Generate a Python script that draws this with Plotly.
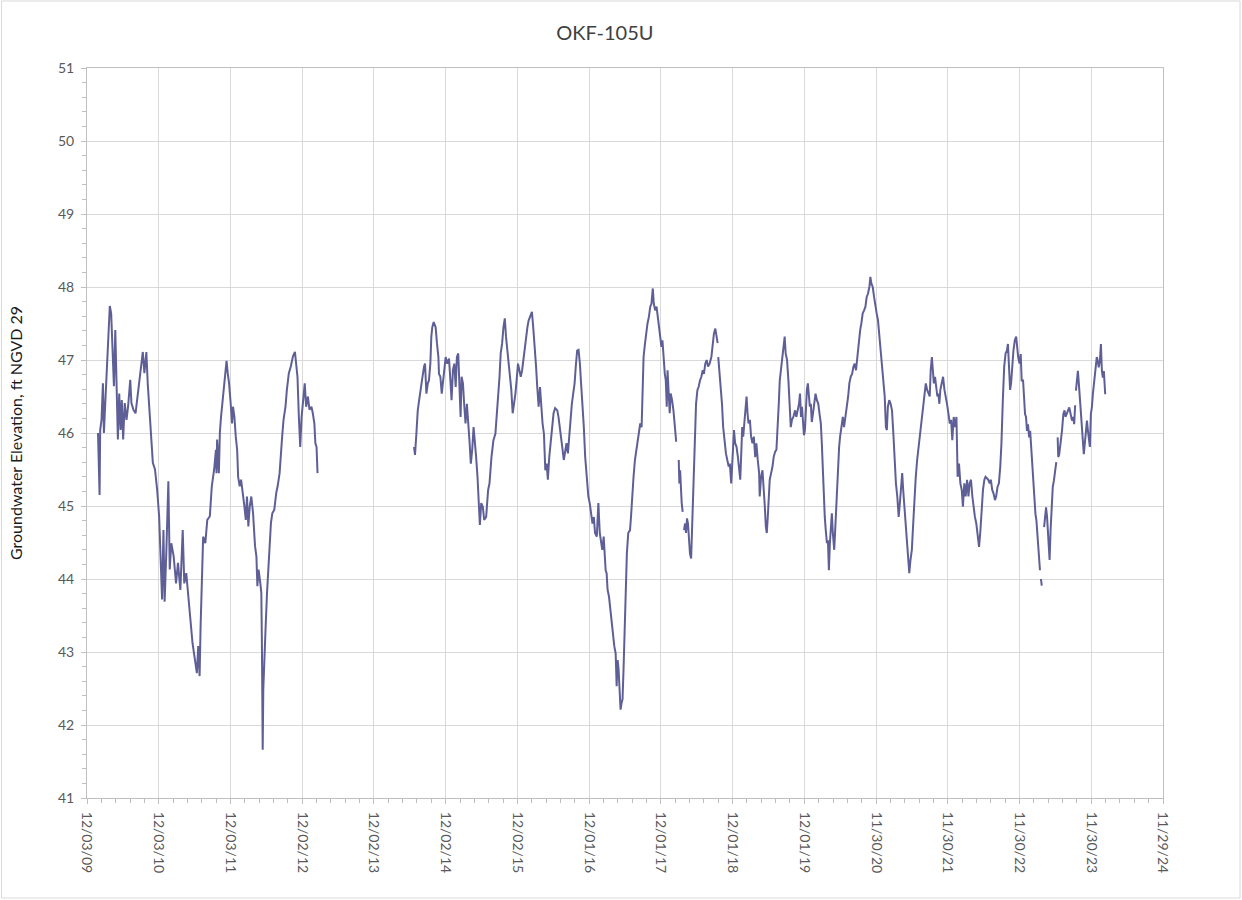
import pandas as pd
import plotly.graph_objects as go

# Well OKF-105U groundwater elevation.
# day_offset = days after 2009-12-03; None in elevation_ft marks a gap in the record.
START_DATE = "2009-12-03"

day_offset = [
    56, 59, 64, 67, 74, 81, 86, 93, 101, 108, 116, 123, 130, 137, 144, 150, 157, 164, 171, 177,
    184, 192, 201, 209, 220, 226, 236, 247, 258, 270, 284, 292, 302, 309, 318, 326, 335, 346, 357, 367,
    375, 382, 389, 395, 404, 414, 421, 429, 441, 453, 463, 475, 487, 495, 505, 515, 525, 537, 549, 559,
    566, 573, 578, 585, 591, 602, 612, 625, 635, 647, 656, 659, 662, 671, 676, 682, 693, 701, 710, 716,
    723, 731, 738, 743, 750, 757, 764, 769, 777, 784, 794, 801, 808, 814, 821, 828, 836, 845, 855, 862,
    867, 873, 882, 887, 890, 894, 897, 902, 909, 916, 922, 929, 936, 943, 953, 963, 970, 980, 987, 993,
    1000, 1010, 1017, 1027, 1037, 1048, 1058, 1064, 1071, 1078, 1085, 1092, 1098, 1108, 1115, 1124, 1132, 1142, 1149, 1157,
    1162, 1168, 1173,
    1400,
    1664, 1669, 1676, 1683, 1690, 1698, 1707, 1715, 1720, 1727, 1734, 1740, 1747, 1752, 1757, 1764, 1774,
    1781, 1788, 1791, 1798, 1805, 1811, 1818, 1825, 1833, 1842, 1850, 1855, 1862, 1869, 1876, 1882, 1889, 1896, 1901,
    1906, 1913, 1919, 1926, 1933, 1940, 1947, 1953, 1960, 1967, 1974, 1980, 1987, 1994, 1999, 2006, 2014, 2021, 2031,
    2041, 2048, 2058, 2068, 2078, 2085, 2092, 2099, 2105, 2112, 2119, 2126, 2132, 2139, 2146, 2153, 2159, 2166, 2173,
    2180, 2186, 2193, 2200, 2207, 2214, 2220, 2227, 2234, 2241, 2247, 2256, 2264, 2271, 2278, 2285, 2291, 2298, 2305,
    2312, 2318, 2325, 2332, 2339, 2345, 2352, 2359, 2366, 2374, 2382, 2393, 2399, 2406, 2413, 2420, 2426, 2433, 2440,
    2447, 2453, 2460, 2467, 2474, 2481, 2487, 2494, 2501, 2508, 2514, 2521, 2528, 2535, 2543, 2551, 2558, 2565, 2572,
    2579, 2585, 2594, 2602, 2609, 2616, 2622, 2629, 2636, 2639, 2644, 2649, 2656, 2663, 2670, 2676, 2683, 2690, 2695,
    2700, 2705, 2710, 2715, 2720, 2725, 2730, 2737, 2742, 2747, 2754, 2763, 2768, 2774, 2781, 2788, 2795, 2801, 2808,
    2815, 2822, 2827, 2832, 2839, 2845, 2852, 2859, 2866, 2872, 2879, 2884, 2891, 2898, 2905, 2910, 2916, 2923, 2928,
    2933, 2940, 2945, 2950, 2954, 2960, 2965, 2970, 2977, 2984, 2991, 2998,
    3004,
    3011, 3014, 3018, 3021, 3026, 3031,
    3034,
    3038, 3043, 3048, 3053, 3058, 3063, 3068, 3074, 3079, 3084, 3089, 3094, 3099, 3106, 3112, 3119, 3126, 3133, 3139,
    3146, 3153, 3160, 3168, 3177, 3183, 3190, 3197, 3204, 3209,
    3210,
    3212, 3217, 3224, 3231, 3237, 3244, 3251, 3258, 3265, 3271, 3278, 3285, 3292, 3298, 3305, 3312, 3319, 3324,
    3329, 3334, 3339, 3346, 3351, 3356, 3361, 3366, 3373, 3379, 3386, 3393, 3400, 3406, 3413, 3420, 3423, 3430, 3437,
    3444, 3449, 3454, 3459, 3464, 3469, 3474, 3481, 3488, 3494, 3501, 3508, 3515, 3520, 3525, 3532, 3538, 3545, 3550,
    3555, 3562, 3569, 3576, 3581, 3587, 3594, 3603, 3609, 3616, 3623, 3628, 3633, 3638, 3643, 3648, 3653, 3658, 3663,
    3668, 3673, 3678, 3683, 3688, 3694, 3700, 3707, 3714, 3721, 3727, 3734, 3739, 3744, 3749, 3754, 3759, 3765, 3770,
    3775, 3780, 3785, 3790, 3795, 3802, 3807, 3812, 3817, 3822, 3827, 3832, 3839, 3846, 3852, 3859, 3866, 3873, 3879,
    3886, 3893, 3900, 3906, 3913, 3920, 3927, 3934, 3940, 3947, 3954, 3961, 3967, 3974, 3981, 3986, 3991, 3998, 4005,
    4011, 4018, 4025, 4032, 4038, 4045, 4052, 4059, 4065, 4070, 4075, 4082, 4089, 4096, 4103, 4109, 4116, 4123, 4130,
    4136, 4143, 4148, 4153, 4160, 4167, 4174, 4179, 4184, 4190, 4197, 4204, 4211, 4217, 4224, 4231, 4238, 4245, 4251,
    4258, 4263, 4268, 4275, 4282, 4288, 4293, 4299, 4304, 4309, 4315, 4322, 4327, 4332, 4337, 4342, 4349, 4356, 4363,
    4370, 4376, 4383, 4390, 4397, 4403, 4410, 4417, 4424, 4427, 4430, 4437, 4444, 4451, 4457, 4464, 4471, 4478, 4485,
    4491, 4498, 4505, 4512, 4518, 4525, 4532, 4539, 4545, 4552, 4559, 4566, 4572, 4579, 4586, 4593, 4599, 4606, 4613,
    4620, 4626, 4633, 4640, 4647, 4653, 4660, 4667, 4674, 4681, 4686, 4691, 4697, 4702, 4708, 4714, 4721, 4728, 4738,
    4745, 4751, 4756, 4763, 4768, 4773, 4778, 4783, 4788, 4794, 4799, 4804, 4809, 4816, 4821, 4826, 4831, 4836, 4841,
    4846, 4849,
    4851,
    4854, 4858,
    4864,
    4870, 4875, 4880, 4885, 4890, 4895, 4898, 4903, 4908, 4914, 4920, 4927, 4932,
    4935,
    4939, 4942, 4947, 4954, 4961, 4968, 4974, 4979, 4985, 4991, 4998, 5005, 5012, 5018, 5023, 5028,
    5030,
    5032, 5037, 5042, 5047, 5052, 5057, 5062, 5067, 5072, 5077, 5083, 5088, 5093, 5098, 5103, 5108, 5113, 5118, 5123,
    5128, 5133, 5138, 5143, 5148, 5154, 5159, 5164, 5169, 5174, 5177, 5181,
]

elevation_ft = [
    46.00, 45.68, 45.15, 46.04, 46.18, 46.68, 46.00, 46.41, 46.95, 47.32, 47.74, 47.64, 47.14, 46.64, 47.41, 46.77, 45.91, 46.54, 46.04, 46.45,
    45.91, 46.41, 46.18, 46.36, 46.73, 46.41, 46.32, 46.27, 46.54, 46.86, 47.11, 46.82, 47.11, 46.68, 46.32, 45.86, 45.59, 45.50, 45.22, 44.86,
    44.31, 43.72, 44.67, 43.69, 44.40, 45.34, 44.13, 44.49, 44.31, 43.94, 44.22, 43.85, 44.67, 43.94, 44.08, 43.76, 43.44, 43.12, 42.90, 42.71,
    43.08, 42.67, 43.35, 44.22, 44.58, 44.49, 44.81, 44.86, 45.27, 45.50, 45.77, 45.45, 45.91, 45.45, 46.00, 46.22, 46.50, 46.68, 46.99, 46.82,
    46.68, 46.41, 46.13, 46.36, 46.22, 45.95, 45.77, 45.40, 45.27, 45.36, 45.08, 44.99, 44.81, 45.13, 44.72, 44.99, 45.13, 44.90, 44.45, 44.31,
    43.90, 44.13, 43.94, 43.81, 43.12, 41.66, 42.49, 42.99, 43.35, 43.81, 44.13, 44.31, 44.77, 44.90, 44.95, 45.18, 45.27, 45.45, 45.77, 45.95,
    46.18, 46.36, 46.59, 46.82, 46.91, 47.05, 47.11, 46.91, 46.77, 46.22, 45.81, 46.22, 46.36, 46.68, 46.36, 46.50, 46.32, 46.36, 46.27, 46.13,
    45.86, 45.81, 45.45,
    None,
    45.81, 45.70, 45.99, 46.31, 46.45, 46.63, 46.77, 46.91, 46.95, 46.54, 46.68, 46.72, 46.95, 47.32, 47.45, 47.52, 47.45,
    47.22, 47.04, 46.81, 46.77, 46.54, 46.72, 46.86, 47.04, 46.95, 47.02, 46.68, 46.45, 46.86, 46.95, 46.63, 47.04, 47.09, 46.68, 46.22,
    46.77, 46.68, 46.40, 46.13, 46.40, 46.18, 45.86, 45.58, 45.77, 46.08, 45.90, 45.67, 45.40, 45.04, 44.74, 45.04, 44.99, 44.81, 44.85,
    45.22, 45.31, 45.67, 45.90, 45.99, 46.22, 46.50, 46.77, 47.09, 47.22, 47.45, 47.57, 47.32, 47.13, 46.91, 46.77, 46.59, 46.27, 46.40,
    46.54, 46.72, 46.95, 46.86, 46.77, 46.86, 47.00, 47.18, 47.32, 47.45, 47.54, 47.61, 47.66, 47.43, 47.22, 46.91, 46.63, 46.36, 46.63,
    46.31, 46.13, 45.99, 45.49, 45.58, 45.36, 45.67, 45.86, 46.08, 46.27, 46.34, 46.31, 46.22, 46.04, 45.90, 45.77, 45.63, 45.77, 45.86,
    45.72, 45.95, 46.18, 46.40, 46.54, 46.68, 46.91, 47.13, 47.14, 46.95, 46.68, 46.40, 46.08, 45.67, 45.40, 45.13, 45.04, 44.90, 44.76,
    44.85, 44.63, 44.58, 45.04, 44.63, 44.49, 44.40, 44.58, 44.26, 44.12, 44.08, 43.85, 43.76, 43.58, 43.39, 43.21, 43.08, 42.98, 42.53,
    42.89, 42.76, 42.48, 42.21, 42.30, 42.35, 42.76, 43.39, 43.90, 44.35, 44.63, 44.67, 44.85, 45.17, 45.40, 45.63, 45.77, 45.90, 46.04,
    46.13, 46.08, 46.50, 47.04, 47.22, 47.36, 47.50, 47.59, 47.73, 47.77, 47.98, 47.77, 47.68, 47.73, 47.59, 47.50, 47.32, 47.18, 47.27,
    47.04, 46.81, 46.72, 46.36, 46.86, 46.54, 46.27, 46.54, 46.45, 46.31, 46.08, 45.88,
    None,
    45.63, 45.31, 45.49, 45.26, 45.04, 44.92,
    None,
    44.67, 44.76, 44.63, 44.83, 44.76, 44.49, 44.35, 44.28, 44.76, 45.26, 45.77, 46.13, 46.40, 46.59, 46.63, 46.72, 46.77, 46.86, 46.81,
    46.95, 47.00, 46.91, 46.95, 47.04, 47.22, 47.36, 47.43, 47.27, 47.23,
    None,
    47.04, 46.86, 46.72, 46.40, 46.08, 45.86, 45.72, 45.63, 45.54, 45.58, 45.31, 45.67, 46.04, 45.86, 45.81, 45.67, 45.49, 45.36,
    45.72, 46.08, 45.95, 46.18, 46.31, 46.50, 46.27, 46.13, 46.18, 45.95, 45.86, 45.95, 45.67, 45.86, 45.63, 45.45, 45.13, 45.40, 45.49,
    45.26, 44.99, 44.72, 44.63, 44.85, 45.17, 45.36, 45.45, 45.54, 45.67, 45.74, 45.77, 46.08, 46.40, 46.72, 46.91, 47.04, 47.18, 47.32,
    47.09, 47.00, 46.72, 46.40, 46.08, 46.18, 46.22, 46.31, 46.22, 46.31, 46.40, 46.54, 46.22, 46.36, 46.13, 45.97, 46.04, 46.40, 46.59,
    46.68, 46.50, 46.36, 46.40, 46.15, 46.27, 46.40, 46.54, 46.45, 46.40, 46.27, 46.13, 45.86, 45.49, 45.13, 44.85, 44.67, 44.49, 44.53,
    44.12, 44.49, 44.81, 44.90, 44.63, 44.40, 44.67, 44.99, 45.22, 45.54, 45.81, 45.95, 46.13, 46.22, 46.08, 46.27, 46.36, 46.50, 46.68,
    46.77, 46.81, 46.91, 46.95, 46.86, 47.04, 47.27, 47.41, 47.50, 47.64, 47.68, 47.73, 47.86, 47.91, 48.00, 48.14, 48.05, 48.00, 47.86,
    47.73, 47.64, 47.54, 47.32, 47.18, 46.95, 46.68, 46.50, 46.08, 46.04, 46.36, 46.45, 46.40, 46.31, 45.99, 45.67, 45.31, 45.13, 44.85,
    45.04, 45.31, 45.45, 45.22, 44.94, 44.63, 44.40, 44.17, 44.08, 44.26, 44.40, 44.76, 45.17, 45.40, 45.63, 45.81, 45.95, 46.13, 46.31,
    46.50, 46.63, 46.68, 46.59, 46.54, 46.50, 46.86, 47.04, 46.86, 46.68, 46.77, 46.59, 46.50, 46.54, 46.40, 46.59, 46.68, 46.77, 46.59,
    46.50, 46.40, 46.27, 46.13, 46.18, 45.90, 46.22, 46.08, 46.22, 45.77, 45.40, 45.58, 45.31, 45.22, 44.99, 45.31, 45.13, 45.36, 45.13,
    45.31, 45.36, 45.13, 44.94, 44.85, 44.76, 44.58, 44.44, 44.63, 44.94, 45.22, 45.36, 45.40, 45.38, 45.36, 45.31, 45.36, 45.22, 45.17,
    45.08, 45.13, 45.26, 45.31, 45.54, 45.86, 46.45, 46.91, 47.09, 47.13, 47.22, 46.91, 46.59, 46.68, 47.00, 47.13, 47.27, 47.32, 47.04,
    46.95, 47.08, 46.72, 46.72, 46.49, 46.26, 46.22, 46.03, 46.12, 45.94, 46.03, 45.81, 45.53, 45.36, 45.12, 44.89, 44.80, 44.62, 44.44,
    44.26, 44.12,
    None,
    44.00, 43.91,
    None,
    44.71, 44.85, 44.98, 44.85, 44.62, 44.39, 44.26, 44.67, 45.08, 45.26, 45.35, 45.49, 45.60,
    None,
    45.94, 45.67, 45.71, 45.85, 46.03, 46.26, 46.31, 46.22, 46.26, 46.31, 46.35, 46.26, 46.17, 46.22, 46.12, 46.38,
    None,
    46.58, 46.76, 46.85, 46.67, 46.49, 46.31, 46.12, 45.94, 45.71, 45.85, 46.08, 46.17, 46.03, 45.90, 45.81, 46.26, 46.35, 46.53, 46.67,
    46.81, 46.95, 47.04, 46.99, 46.90, 46.99, 47.22, 46.85, 46.76, 46.85, 46.58, 46.53,
]

dates = pd.to_datetime(START_DATE) + pd.to_timedelta(day_offset, unit="D")

DAY_MS = 86400000
grid = "#D9D9D9"
tick_col = "#BFBFBF"
text_col = "#595959"
font_name = "Lato, Open Sans, sans-serif"

fig = go.Figure()
fig.add_trace(go.Scatter(
    x=dates, y=elevation_ft,
    mode="lines",
    line=dict(color="#5F5F97", width=2),
    connectgaps=False,
    hoverinfo="x+y",
))

fig.update_layout(
    width=1242, height=900,
    paper_bgcolor="white", plot_bgcolor="white",
    showlegend=False,
    margin=dict(l=87, r=79, t=68, b=102),
    font=dict(family=font_name, color=text_col, size=14),
    title=dict(text="OKF-105U", x=0.487, xanchor="center", y=0.963, yanchor="middle",
               font=dict(size=20, color="#404040", family=font_name)),
    xaxis=dict(
        type="date",
        range=["2009-12-03", "2024-11-29"],
        tick0="2009-12-03", dtick=365 * DAY_MS,
        tickformat="%m/%d/%y", tickangle=90,
        showgrid=True, gridcolor=grid, gridwidth=1,
        showline=True, linecolor=tick_col, mirror=True,
        ticks="outside", ticklen=5, tickcolor=tick_col,
        ticklabelstandoff=5,
        tickfont=dict(size=14, color=text_col),
        minor=dict(tick0="2009-12-03", dtick=73 * DAY_MS, ticks="outside",
                   ticklen=4, tickcolor=tick_col, showgrid=False),
        zeroline=False,
    ),
    yaxis=dict(
        range=[41, 51], tick0=41, dtick=1,
        showgrid=True, gridcolor=grid, gridwidth=1,
        showline=True, linecolor=tick_col, mirror=True,
        ticks="outside", ticklen=5, tickcolor=tick_col,
        ticklabelstandoff=4,
        tickfont=dict(size=14, color=text_col),
        minor=dict(tick0=41, dtick=0.2, ticks="outside", ticklen=4,
                   tickcolor=tick_col, showgrid=False),
        zeroline=False,
        title=dict(text="Groundwater Elevation, ft NGVD 29",
                   font=dict(size=16, color="#1A1A1A"), standoff=31),
    ),
)

# light frame round the whole chart, as in the spreadsheet export
fig.add_shape(type="rect", xref="paper", yref="paper",
              x0=-0.0795, x1=1.0716, y0=-0.1370, y1=1.0918,
              line=dict(color=grid, width=1), layer="below")

# the page's default body margin would push the chart 8px right and down
fig.write_html("out.html", config={"displayModeBar": False},
               post_script="document.body.style.margin='0';")
